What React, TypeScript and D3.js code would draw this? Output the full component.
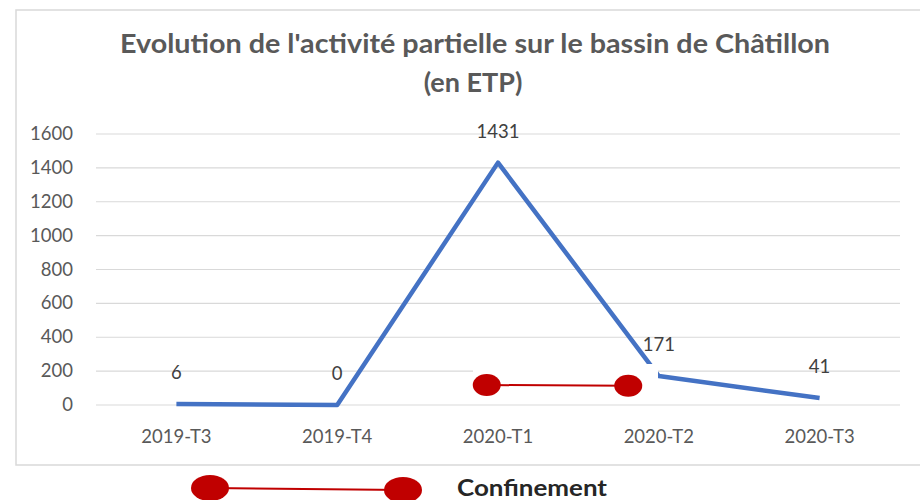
import React from 'react';
import * as d3 from 'd3';

// data
const quarters = ['2019-T3', '2019-T4', '2020-T1', '2020-T2', '2020-T3'];
const etpValues = [6, 0, 1431, 171, 41];
const yTicks = [0, 200, 400, 600, 800, 1000, 1200, 1400, 1600];
// confinement annotation: [category position, value]
const confinementStart = [1.93, 118];
const confinementEnd = [2.81, 114];
const titleLines = ["Evolution de l'activité partielle sur le bassin de Châtillon", '(en ETP)'];
const legendLabel = 'Confinement';

const W = 920;
const H = 500;
const FONT = 'Lato, "Open Sans", sans-serif';

const App: React.FC = () => {
  const margin = { left: 96, right: 20, top: 134, bottom: 95 };

  const x = d3.scaleBand<string>()
    .domain(quarters)
    .range([margin.left, W - margin.right]);

  const xPos = (i: number) => margin.left + x.bandwidth() * (i + 0.5);

  const y = d3.scaleLinear()
    .domain([0, 1600])
    .range([H - margin.bottom, margin.top]);

  const line = d3.line<number>()
    .x((_, i) => xPos(i))
    .y(d => y(d));

  const cx1 = xPos(confinementStart[0]);
  const cy1 = y(confinementStart[1]);
  const cx2 = xPos(confinementEnd[0]);
  const cy2 = y(confinementEnd[1]);

  return (
    <div style={{ position: 'fixed', left: 0, top: 0 }}>
      <svg width={W} height={H} style={{ display: 'block', background: '#fff' }}>
        {/* chart frame */}
        <rect x={16} y={10} width={W + 10} height={455} fill="#fff" stroke="#D9D9D9" strokeWidth={1.5} />

        {/* title */}
        <text
          x={475}
          y={53}
          textAnchor="middle"
          fontFamily={FONT}
          fontWeight="bold"
          fontSize={27}
          fill="#595959"
          textLength={710}
          lengthAdjust="spacingAndGlyphs"
        >
          {titleLines[0]}
        </text>
        <text x={473} y={92} textAnchor="middle" fontFamily={FONT} fontWeight="bold" fontSize={27} fill="#595959">
          {titleLines[1]}
        </text>

        {/* gridlines + y labels */}
        {yTicks.map(t => (
          <g key={t}>
            <line x1={margin.left} x2={W - margin.right} y1={y(t)} y2={y(t)} stroke="#D9D9D9" strokeWidth={1.2} />
            <text x={73} y={y(t) + 6} textAnchor="end" fontFamily={FONT} fontSize={18.5} fill="#595959">
              {t}
            </text>
          </g>
        ))}

        {/* x labels */}
        {quarters.map((q, i) => (
          <text key={q} x={xPos(i)} y={443} textAnchor="middle" fontFamily={FONT} fontSize={18.5} fill="#595959">
            {q}
          </text>
        ))}

        {/* series */}
        <path d={line(etpValues) || ''} fill="none" stroke="#4472C4" strokeWidth={4.5} strokeLinejoin="round" />

        {/* data labels */}
        {etpValues.map((v, i) => (
          <text key={i} x={xPos(i)} y={y(v) - 25} textAnchor="middle" fontFamily={FONT} fontSize={18.5} fill="#404040">
            {v}
          </text>
        ))}

        {/* confinement annotation */}
        <rect x={473} y={364} width={185} height={34} fill="#fff" />
        <line x1={cx1} y1={cy1} x2={cx2} y2={cy2} stroke="#C00000" strokeWidth={2} />
        <ellipse cx={cx1} cy={cy1} rx={14} ry={11} fill="#C00000" />
        <ellipse cx={cx2} cy={cy2} rx={14} ry={11} fill="#C00000" />

        {/* legend */}
        <line x1={210} y1={488} x2={403} y2={490} stroke="#C00000" strokeWidth={2} />
        <ellipse cx={210} cy={488} rx={19} ry={13} fill="#C00000" />
        <ellipse cx={403} cy={490} rx={19} ry={13} fill="#C00000" />
        <text
          x={457}
          y={496}
          fontFamily={FONT}
          fontWeight="bold"
          fontSize={22}
          fill="#262626"
          textLength={150}
          lengthAdjust="spacingAndGlyphs"
        >
          {legendLabel}
        </text>
      </svg>
    </div>
  );
};

export default App;
